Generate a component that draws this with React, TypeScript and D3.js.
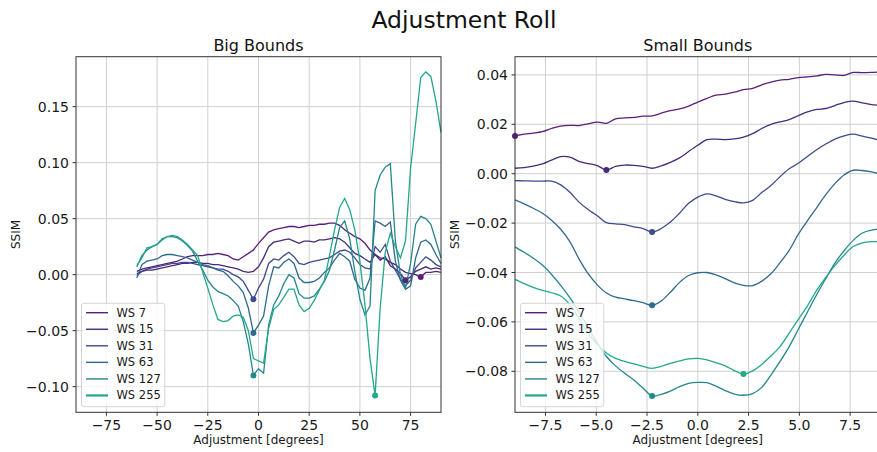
import React from 'react'
import * as d3 from 'd3'

const WIDTH = 877
const HEIGHT = 452
const PLOT_TOP = 56.7
const PLOT_BOTTOM = 412.3
const FONT = '"DejaVu Sans", Verdana, sans-serif'

const LABELS = ['WS 7', 'WS 15', 'WS 31', 'WS 63', 'WS 127', 'WS 255']
const COLORS = ['#5a1f78', '#472b7a', '#3d4b8a', '#2d6a8e', '#23878d', '#22a88a']

// Big Bounds: adjustment in degrees
const BIG_X = [
  -60, -57.5, -55, -52.5, -50, -47.5, -45, -42.5, -40, -37.5,
  -35, -32.5, -30, -27.5, -25, -22.5, -20, -17.5, -15, -12.5,
  -10, -7.5, -5, -2.5, 0, 2.5, 5, 7.5, 10, 12.5,
  15, 17.5, 20, 22.5, 25, 27.5, 30, 32.5, 35, 37.5,
  40, 42.5, 45, 47.5, 50, 52.5, 55, 57.5, 60, 62.5,
  65, 67.5, 70, 72.5, 75, 77.5, 80, 82.5, 85, 87.5, 90
]
const BIG_WS7 = [
  0.003, 0.005, 0.006, 0.007, 0.008, 0.009, 0.010, 0.011, 0.012, 0.014,
  0.016, 0.017, 0.017, 0.017, 0.018, 0.018, 0.019, 0.018, 0.017, 0.014,
  0.013, 0.016, 0.019, 0.022, 0.028, 0.033, 0.038, 0.040, 0.041, 0.042,
  0.043, 0.043, 0.042, 0.043, 0.044, 0.044, 0.045, 0.045, 0.046, 0.046,
  0.044, 0.040, 0.037, 0.034, 0.032, 0.028, 0.022, 0.018, 0.015, 0.014,
  0.011, 0.009, 0.005, 0.002, 0.001, 0.000, -0.002, 0.002, 0.002, 0.003, 0.002
]
const BIG_WS15 = [
  0.001, 0.003, 0.004, 0.004, 0.005, 0.006, 0.007, 0.008, 0.009, 0.010,
  0.010, 0.011, 0.011, 0.010, 0.010, 0.009, 0.009, 0.008, 0.007, 0.006,
  0.005, 0.003, 0.002, 0.003, 0.007, 0.015, 0.025, 0.029, 0.030, 0.031,
  0.032, 0.030, 0.028, 0.030, 0.030, 0.029, 0.031, 0.031, 0.032, 0.033,
  0.032, 0.029, 0.024, 0.019, 0.017, 0.014, 0.011, 0.018, 0.013, 0.016,
  0.008, 0.005, 0.001, -0.005, -0.002, 0.003, 0.005, 0.007, 0.005, 0.006, 0.005
]
const BIG_WS31 = [
  -0.001, 0.003, 0.005, 0.006, 0.007, 0.008, 0.009, 0.010, 0.010, 0.011,
  0.011, 0.010, 0.009, 0.008, 0.007, 0.006, 0.005, 0.005, 0.003, 0.000,
  -0.002, -0.006, -0.014, -0.022, -0.012, -0.004, 0.010, 0.014, 0.013, 0.017,
  0.020, 0.016, 0.010, 0.009, 0.011, 0.012, 0.013, 0.014, 0.015, 0.018,
  0.021, 0.022, 0.020, 0.015, 0.009, 0.006, 0.005, 0.025, 0.020, 0.027,
  0.012, 0.004, -0.004, -0.010, -0.005, 0.006, 0.011, 0.016, 0.013, 0.009, 0.007
]
const BIG_WS63 = [
  -0.003, 0.009, 0.012, 0.013, 0.014, 0.017, 0.018, 0.018, 0.017, 0.016,
  0.015, 0.013, 0.011, 0.009, 0.008, 0.006, 0.004, 0.003, -0.001, -0.006,
  -0.010, -0.016, -0.030, -0.052, -0.045, -0.037, -0.010, 0.007, 0.006, 0.011,
  0.014, 0.010, -0.003, -0.007, -0.007, -0.006, -0.003, 0.002, 0.006, 0.013,
  0.019, 0.016, 0.012, -0.004, -0.012, -0.014, -0.003, 0.048, 0.046, 0.043,
  0.047, 0.012, -0.005, -0.013, -0.010, 0.015, 0.029, 0.031, 0.027, 0.018, 0.010
]
const BIG_WS127 = [
  0.007, 0.017, 0.022, 0.025, 0.027, 0.032, 0.034, 0.034, 0.033, 0.030,
  0.026, 0.021, 0.012, 0.004, -0.005, -0.011, -0.015, -0.017, -0.019, -0.023,
  -0.028, -0.042, -0.062, -0.090, -0.084, -0.088, -0.045, -0.027, -0.019, -0.008,
  0.000, -0.003, -0.017, -0.021, -0.021, -0.019, -0.013, -0.006, 0.004, 0.022,
  0.042, 0.048, 0.032, 0.003, -0.022, -0.036, -0.028, 0.075, 0.089, 0.096,
  0.099, 0.030, 0.000, -0.012, 0.010, 0.045, 0.052, 0.050, 0.045, 0.030, 0.015
]
const BIG_WS255 = [
  0.008, 0.015, 0.024, 0.025, 0.027, 0.031, 0.034, 0.035, 0.034, 0.031,
  0.027, 0.022, 0.017, 0.002, -0.012, -0.027, -0.040, -0.042, -0.041, -0.037,
  -0.036, -0.038, -0.050, -0.075, -0.077, -0.079, -0.048, -0.031, -0.027, -0.020,
  -0.013, -0.013, -0.027, -0.033, -0.030, -0.023, -0.014, -0.005, 0.017, 0.040,
  0.060, 0.068, 0.058, 0.040, 0.012, -0.027, -0.075, -0.108, -0.030, 0.020,
  0.037, 0.025, 0.015, 0.030, 0.095, 0.135, 0.176, 0.181, 0.177, 0.155, 0.127
]

// Small Bounds
const SMALL_X = [
  -9, -8.55, -8.1, -7.65, -7.2, -6.75, -6.3, -5.85, -5.4, -4.95,
  -4.5, -4.05, -3.6, -3.15, -2.7, -2.25, -1.8, -1.35, -0.9, -0.45,
  0, 0.45, 0.9, 1.35, 1.8, 2.25, 2.7, 3.15, 3.6, 4.05,
  4.5, 4.95, 5.4, 5.85, 6.3, 6.75, 7.2, 7.65, 8.1, 8.55, 9
]
const SMALL_WS7 = [
  0.0153, 0.0160, 0.0164, 0.0170, 0.0183, 0.0193, 0.0196, 0.0195, 0.0202, 0.0209,
  0.0204, 0.0222, 0.0226, 0.0228, 0.0233, 0.0234, 0.0245, 0.0255, 0.0262, 0.0274,
  0.0290, 0.0305, 0.0318, 0.0322, 0.0330, 0.0340, 0.0345, 0.0360, 0.0371, 0.0379,
  0.0382, 0.0389, 0.0392, 0.0396, 0.0402, 0.0400, 0.0398, 0.0410, 0.0409, 0.0410, 0.0412
]
const SMALL_WS15 = [
  0.0022, 0.0025, 0.0031, 0.0040, 0.0055, 0.0069, 0.0067, 0.0050, 0.0041, 0.0033,
  0.0015, 0.0030, 0.0035, 0.0034, 0.0030, 0.0022, 0.0032, 0.0046, 0.0064, 0.0090,
  0.0115, 0.0138, 0.0140, 0.0138, 0.0141, 0.0148, 0.0162, 0.0183, 0.0200, 0.0210,
  0.0219, 0.0235, 0.0250, 0.0260, 0.0264, 0.0276, 0.0288, 0.0294, 0.0287, 0.0280, 0.0276
]
const SMALL_WS31 = [
  -0.0028, -0.0029, -0.0030, -0.0030, -0.0030, -0.0045, -0.0075, -0.0115, -0.0145, -0.0170,
  -0.0198, -0.0203, -0.0206, -0.0215, -0.0222, -0.0236, -0.0222, -0.0196, -0.0160, -0.0120,
  -0.0095, -0.0082, -0.0090, -0.0104, -0.0113, -0.0118, -0.0108, -0.0076, -0.0048, -0.0012,
  0.0020, 0.0042, 0.0070, 0.0097, 0.0120, 0.0140, 0.0153, 0.0160, 0.0152, 0.0144, 0.0134
]
const SMALL_WS63 = [
  -0.0106, -0.0122, -0.0140, -0.0160, -0.0188, -0.0225, -0.0275, -0.0345, -0.0405, -0.0450,
  -0.0483, -0.0500, -0.0507, -0.0514, -0.0522, -0.0533, -0.0515, -0.0480, -0.0440, -0.0412,
  -0.0401, -0.0400, -0.0410, -0.0425, -0.0442, -0.0452, -0.0453, -0.0435, -0.0405, -0.0360,
  -0.0310, -0.0245, -0.0190, -0.0138, -0.0085, -0.0040, -0.0005, 0.0014, 0.0013, 0.0007, -0.0002
]
const SMALL_WS127 = [
  -0.0296, -0.0318, -0.0342, -0.0370, -0.0408, -0.0452, -0.0502, -0.0560, -0.0622, -0.0685,
  -0.0740, -0.0778, -0.0808, -0.0835, -0.0868, -0.0900, -0.0893, -0.0880, -0.0862, -0.0849,
  -0.0845, -0.0846, -0.0860, -0.0878, -0.0892, -0.0897, -0.0890, -0.0865, -0.0815, -0.0760,
  -0.0700, -0.0630, -0.0560, -0.0490, -0.0425, -0.0362, -0.0312, -0.0270, -0.0240, -0.0228, -0.0224
]
const SMALL_WS255 = [
  -0.0428, -0.0445, -0.0460, -0.0472, -0.0482, -0.0495, -0.0530, -0.0585, -0.0645, -0.0690,
  -0.0726, -0.0748, -0.0760, -0.0770, -0.0780, -0.0788, -0.0780, -0.0768, -0.0758, -0.0750,
  -0.0748, -0.0754, -0.0765, -0.0778, -0.0797, -0.0811, -0.0798, -0.0772, -0.0738, -0.0700,
  -0.0645, -0.0590, -0.0535, -0.0472, -0.0420, -0.0372, -0.0330, -0.0295, -0.0280, -0.0275, -0.0276
]

const BIG_X_TICKS = [-75, -50, -25, 0, 25, 50, 75]
const BIG_Y_TICKS = [-0.1, -0.05, 0, 0.05, 0.1, 0.15]
const SMALL_X_TICKS = [-7.5, -5, -2.5, 0, 2.5, 5, 7.5]
const SMALL_Y_TICKS = [-0.08, -0.06, -0.04, -0.02, 0, 0.02, 0.04]

type PanelProps = {
  title: string
  xs: number[]
  series: number[][]
  left: number
  right: number
  xDomain: [number, number]
  yDomain: [number, number]
  xTicks: number[]
  yTicks: number[]
  xFmt: (n: number) => string
  yFmt: (n: number) => string
  smooth?: boolean
}

const Panel = ({ title, xs, series, left, right, xDomain, yDomain, xTicks, yTicks, xFmt, yFmt, smooth }: PanelProps) => {
  const x = d3.scaleLinear().domain(xDomain).range([left, right])
  const y = d3.scaleLinear().domain(yDomain).range([PLOT_BOTTOM, PLOT_TOP])
  const line = d3
    .line<number>()
    .x((_, i) => x(xs[i]))
    .y(d => y(d))
    .curve(smooth ? d3.curveCatmullRom.alpha(0.5) : d3.curveLinear)

  const mid = (left + right) / 2
  const legendX = left + 5.5
  const legendY = 303.3

  return (
    <g fontFamily={FONT}>
      {/* grid */}
      {xTicks.map(t => (
        <line key={'gx' + t} x1={x(t)} x2={x(t)} y1={PLOT_TOP} y2={PLOT_BOTTOM} stroke="#d0d0d0" strokeWidth={1} />
      ))}
      {yTicks.map(t => (
        <line key={'gy' + t} x1={left} x2={right} y1={y(t)} y2={y(t)} stroke="#d0d0d0" strokeWidth={1} />
      ))}

      {/* lines */}
      {series.map((s, i) => (
        <path key={'l' + i} d={line(s) || ''} fill="none" stroke={COLORS[i]} strokeWidth={1.3} />
      ))}
      {/* minimum markers */}
      {series.map((s, i) => {
        const k = d3.minIndex(s)
        return <circle key={'m' + i} cx={x(xs[k])} cy={y(s[k])} r={3} fill={COLORS[i]} />
      })}

      {/* spines */}
      <rect x={left} y={PLOT_TOP} width={right - left} height={PLOT_BOTTOM - PLOT_TOP} fill="none" stroke="#333" strokeWidth={1} />

      {/* ticks */}
      {xTicks.map(t => (
        <g key={'tx' + t}>
          <line x1={x(t)} x2={x(t)} y1={PLOT_BOTTOM} y2={PLOT_BOTTOM + 3.5} stroke="#333" />
          <text x={x(t)} y={429.5} textAnchor="middle" fontSize={14} fill="#1a1a1a">{xFmt(t)}</text>
        </g>
      ))}
      {yTicks.map(t => (
        <g key={'ty' + t}>
          <line x1={left - 3.5} x2={left} y1={y(t)} y2={y(t)} stroke="#333" />
          <text x={left - 7} y={y(t)} textAnchor="end" dominantBaseline="central" fontSize={14} fill="#1a1a1a">{yFmt(t)}</text>
        </g>
      ))}

      {/* labels */}
      <text x={mid} y={51} textAnchor="middle" fontSize={16} fill="#111">{title}</text>
      <text x={mid} y={444} textAnchor="middle" fontSize={12} fill="#1a1a1a">Adjustment [degrees]</text>
      <text transform={`translate(${left - 56.5},${(PLOT_TOP + PLOT_BOTTOM) / 2}) rotate(-90)`} textAnchor="middle" fontSize={12} fill="#1a1a1a">SSIM</text>

      {/* legend */}
      <rect x={legendX} y={legendY} width={83.3} height={103.4} rx={2.5} fill="#fff" fillOpacity={0.8} stroke="#d5d5d5" />
      {LABELS.map((lab, i) => {
        const ry = 312.7 + i * 16.55
        return (
          <g key={'lg' + i}>
            <line x1={legendX + 4.5} x2={legendX + 26.5} y1={ry} y2={ry} stroke={COLORS[i]} strokeWidth={i === 5 ? 2.2 : 1.4} />
            <text x={legendX + 35} y={ry} dominantBaseline="central" fontSize={11.5} fill="#1a1a1a">{lab}</text>
          </g>
        )
      })}
    </g>
  )
}

const App = () => {
  const intFmt = d3.format('d')
  const f1 = d3.format('.1f')
  const f2 = d3.format('.2f')

  return (
    <div style={{ position: 'absolute', left: 0, top: 0, width: WIDTH, height: HEIGHT, overflow: 'hidden', background: '#fff' }}>
      <svg width={WIDTH} height={HEIGHT} style={{ display: 'block' }}>
        <rect width={WIDTH} height={HEIGHT} fill="#fff" />
        <text x={464} y={28} textAnchor="middle" fontSize={23.5} fontFamily={FONT} fill="#111">Adjustment Roll</text>
        <Panel
          title="Big Bounds"
          xs={BIG_X}
          series={[BIG_WS7, BIG_WS15, BIG_WS31, BIG_WS63, BIG_WS127, BIG_WS255]}
          left={76}
          right={441}
          xDomain={[-90, 90]}
          yDomain={[-0.1229, 0.1946]}
          xTicks={BIG_X_TICKS}
          yTicks={BIG_Y_TICKS}
          xFmt={intFmt}
          yFmt={f2}
        />
        <Panel
          title="Small Bounds"
          xs={SMALL_X}
          series={[SMALL_WS7, SMALL_WS15, SMALL_WS31, SMALL_WS63, SMALL_WS127, SMALL_WS255]}
          left={515}
          right={880.6}
          xDomain={[-9, 9]}
          yDomain={[-0.0966, 0.04737]}
          xTicks={SMALL_X_TICKS}
          yTicks={SMALL_Y_TICKS}
          xFmt={f1}
          yFmt={f2}
          smooth
        />
      </svg>
    </div>
  )
}

export default App
